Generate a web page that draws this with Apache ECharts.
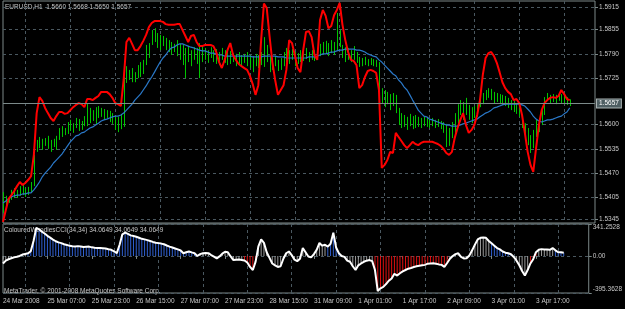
<!DOCTYPE html>
<html>
<head>
<meta charset="utf-8">
<title>EURUSD,H1</title>
<script src="https://cdn.jsdelivr.net/npm/echarts@6/dist/echarts.min.js"></script>
<style>
html, body { margin: 0; padding: 0; background: #000; }
#chart { width: 625px; height: 309px; }
</style>
</head>
<body>
<div id="chart"></div>
<script>
// ---- data (EURUSD H1, 24 Mar - 3 Apr 2008) ----
const timeLabels = ['24 Mar 2008', '25 Mar 07:00', '25 Mar 23:00', '26 Mar 15:00', '27 Mar 07:00', '27 Mar 23:00',
    '28 Mar 15:00', '31 Mar 09:00', '1 Apr 01:00', '1 Apr 17:00', '2 Apr 09:00', '3 Apr 01:00', '3 Apr 17:00'];
const labelStep = 16; // bars between time labels

const priceTicks = [1.5345, 1.5405, 1.5470, 1.5535, 1.5600, 1.5725, 1.5790, 1.5855, 1.5915];
const lastPrice = 1.5657;
const cciTicks = [-395.3628, 0, 341.2528];

const barHigh = [1.5419,1.5409,1.5406,1.5425,1.5430,1.5425,1.5435,1.5438,1.5430,1.5433,
    1.5446,1.5519,1.5559,1.5567,1.5562,1.5564,1.5570,1.5559,1.5562,1.5570,
    1.5591,1.5596,1.5591,1.5607,1.5613,1.5604,1.5618,1.5615,1.5610,1.5623,
    1.5658,1.5645,1.5639,1.5647,1.5650,1.5645,1.5642,1.5639,1.5637,1.5631,
    1.5623,1.5621,1.5626,1.5728,1.5757,1.5747,1.5752,1.5741,1.5760,1.5768,
    1.5774,1.5814,1.5819,1.5854,1.5859,1.5846,1.5841,1.5838,1.5833,1.5827,
    1.5822,1.5817,1.5827,1.5817,1.5814,1.5806,1.5811,1.5800,1.5808,1.5806,
    1.5819,1.5811,1.5806,1.5800,1.5808,1.5800,1.5803,1.5795,1.5806,1.5800,
    1.5795,1.5798,1.5792,1.5790,1.5795,1.5787,1.5790,1.5795,1.5787,1.5784,
    1.5790,1.5787,1.5795,1.5835,1.5814,1.5782,1.5779,1.5784,1.5774,1.5779,
    1.5795,1.5806,1.5800,1.5803,1.5795,1.5792,1.5800,1.5803,1.5806,1.5795,
    1.5800,1.5800,1.5806,1.5817,1.5822,1.5825,1.5819,1.5827,1.5822,1.5900,
    1.5854,1.5814,1.5808,1.5806,1.5800,1.5811,1.5795,1.5782,1.5779,1.5782,
    1.5776,1.5779,1.5776,1.5774,1.5768,1.5698,1.5693,1.5688,1.5682,1.5685,
    1.5680,1.5645,1.5631,1.5626,1.5621,1.5629,1.5623,1.5626,1.5621,1.5618,
    1.5621,1.5618,1.5615,1.5618,1.5613,1.5615,1.5610,1.5607,1.5602,1.5591,
    1.5607,1.5631,1.5655,1.5666,1.5661,1.5672,1.5653,1.5647,1.5650,1.5655,
    1.5677,1.5685,1.5693,1.5698,1.5696,1.5688,1.5685,1.5682,1.5680,1.5677,
    1.5672,1.5666,1.5664,1.5658,1.5655,1.5626,1.5604,1.5591,1.5572,1.5586,
    1.5613,1.5618,1.5639,1.5674,1.5685,1.5680,1.5682,1.5680,1.5685,1.5682,
    1.5677,1.5674,1.5668];

const barLow = [1.5363,1.5384,1.5390,1.5398,1.5403,1.5403,1.5409,1.5411,1.5406,1.5411,
    1.5419,1.5435,1.5527,1.5537,1.5532,1.5543,1.5535,1.5527,1.5540,1.5532,
    1.5559,1.5567,1.5572,1.5575,1.5583,1.5578,1.5591,1.5583,1.5586,1.5596,
    1.5596,1.5604,1.5610,1.5602,1.5618,1.5621,1.5613,1.5618,1.5607,1.5602,
    1.5586,1.5580,1.5588,1.5594,1.5712,1.5720,1.5714,1.5714,1.5725,1.5728,
    1.5736,1.5760,1.5779,1.5814,1.5822,1.5806,1.5800,1.5811,1.5800,1.5795,
    1.5787,1.5795,1.5784,1.5774,1.5760,1.5725,1.5768,1.5757,1.5774,1.5763,
    1.5725,1.5768,1.5774,1.5766,1.5779,1.5768,1.5763,1.5760,1.5774,1.5766,
    1.5760,1.5763,1.5768,1.5757,1.5763,1.5755,1.5766,1.5757,1.5752,1.5741,
    1.5757,1.5752,1.5760,1.5755,1.5768,1.5741,1.5747,1.5757,1.5744,1.5747,
    1.5757,1.5768,1.5763,1.5774,1.5757,1.5763,1.5768,1.5771,1.5776,1.5768,
    1.5774,1.5771,1.5774,1.5784,1.5787,1.5790,1.5784,1.5792,1.5787,1.5800,
    1.5808,1.5779,1.5768,1.5774,1.5768,1.5774,1.5766,1.5755,1.5757,1.5760,
    1.5757,1.5760,1.5757,1.5755,1.5693,1.5658,1.5647,1.5655,1.5639,1.5650,
    1.5631,1.5599,1.5591,1.5594,1.5586,1.5596,1.5588,1.5591,1.5594,1.5591,
    1.5596,1.5594,1.5591,1.5596,1.5591,1.5594,1.5588,1.5578,1.5540,1.5543,
    1.5564,1.5578,1.5604,1.5626,1.5613,1.5626,1.5613,1.5604,1.5618,1.5621,
    1.5647,1.5655,1.5666,1.5672,1.5666,1.5658,1.5661,1.5655,1.5653,1.5650,
    1.5645,1.5639,1.5634,1.5629,1.5621,1.5591,1.5572,1.5545,1.5524,1.5537,
    1.5567,1.5580,1.5599,1.5626,1.5664,1.5658,1.5661,1.5655,1.5664,1.5658,
    1.5655,1.5653,1.5650];

// red envelope-style line
const redLine = [1.5339,1.5371,1.5401,1.5411,1.5422,1.5435,1.5446,1.5438,1.5444,1.5452,
    1.5462,1.5519,1.5631,1.5674,1.5664,1.5645,1.5631,1.5618,1.5610,1.5623,
    1.5634,1.5634,1.5629,1.5631,1.5639,1.5647,1.5653,1.5658,1.5655,1.5647,
    1.5669,1.5669,1.5666,1.5672,1.5677,1.5688,1.5688,1.5688,1.5682,1.5672,
    1.5658,1.5655,1.5650,1.5720,1.5822,1.5833,1.5817,1.5800,1.5800,1.5811,
    1.5825,1.5841,1.5862,1.5873,1.5878,1.5878,1.5878,1.5876,1.5870,1.5868,
    1.5868,1.5868,1.5870,1.5870,1.5854,1.5838,1.5822,1.5838,1.5841,1.5822,
    1.5811,1.5811,1.5814,1.5814,1.5814,1.5811,1.5795,1.5768,1.5752,1.5774,
    1.5800,1.5819,1.5787,1.5774,1.5763,1.5757,1.5752,1.5747,1.5731,1.5709,
    1.5680,1.5706,1.5827,1.5925,1.5913,1.5838,1.5768,1.5720,1.5680,1.5693,
    1.5706,1.5747,1.5827,1.5819,1.5787,1.5752,1.5741,1.5800,1.5849,1.5851,
    1.5835,1.5787,1.5774,1.5881,1.5908,1.5892,1.5859,1.5865,1.5894,1.5908,
    1.5927,1.5868,1.5827,1.5795,1.5774,1.5771,1.5760,1.5698,1.5706,1.5728,
    1.5744,1.5747,1.5744,1.5739,1.5693,1.5484,1.5492,1.5505,1.5527,1.5524,
    1.5578,1.5567,1.5556,1.5545,1.5537,1.5545,1.5554,1.5548,1.5545,1.5551,
    1.5554,1.5554,1.5554,1.5554,1.5551,1.5548,1.5543,1.5535,1.5524,1.5519,
    1.5527,1.5564,1.5591,1.5613,1.5631,1.5599,1.5578,1.5586,1.5599,1.5626,
    1.5666,1.5733,1.5779,1.5792,1.5795,1.5784,1.5766,1.5741,1.5714,1.5698,
    1.5688,1.5682,1.5666,1.5669,1.5658,1.5626,1.5578,1.5527,1.5492,1.5473,
    1.5537,1.5599,1.5639,1.5658,1.5666,1.5672,1.5674,1.5672,1.5677,1.5693,
    1.5682,1.5669,1.5666];

// blue moving average
const maLine = [1.5390,1.5395,1.5401,1.5406,1.5409,1.5411,1.5411,1.5414,1.5414,1.5417,
    1.5417,1.5425,1.5435,1.5446,1.5460,1.5470,1.5478,1.5486,1.5497,1.5505,
    1.5513,1.5521,1.5532,1.5543,1.5554,1.5562,1.5570,1.5572,1.5578,1.5580,
    1.5586,1.5591,1.5594,1.5599,1.5604,1.5610,1.5613,1.5615,1.5618,1.5621,
    1.5623,1.5623,1.5626,1.5631,1.5639,1.5647,1.5655,1.5666,1.5674,1.5682,
    1.5693,1.5704,1.5717,1.5728,1.5741,1.5755,1.5768,1.5779,1.5787,1.5798,
    1.5806,1.5808,1.5814,1.5817,1.5817,1.5814,1.5811,1.5808,1.5806,1.5803,
    1.5800,1.5798,1.5798,1.5795,1.5792,1.5792,1.5790,1.5787,1.5787,1.5784,
    1.5784,1.5784,1.5784,1.5784,1.5784,1.5784,1.5784,1.5784,1.5784,1.5782,
    1.5782,1.5782,1.5782,1.5784,1.5784,1.5784,1.5784,1.5784,1.5782,1.5782,
    1.5782,1.5779,1.5779,1.5779,1.5779,1.5779,1.5779,1.5779,1.5779,1.5782,
    1.5782,1.5782,1.5784,1.5787,1.5790,1.5790,1.5792,1.5795,1.5795,1.5798,
    1.5800,1.5800,1.5803,1.5803,1.5803,1.5803,1.5800,1.5800,1.5798,1.5795,
    1.5790,1.5787,1.5784,1.5782,1.5774,1.5768,1.5760,1.5752,1.5744,1.5736,
    1.5731,1.5720,1.5712,1.5701,1.5693,1.5680,1.5666,1.5653,1.5639,1.5631,
    1.5623,1.5621,1.5615,1.5613,1.5610,1.5607,1.5604,1.5602,1.5599,1.5599,
    1.5596,1.5596,1.5596,1.5599,1.5602,1.5604,1.5607,1.5610,1.5613,1.5615,
    1.5621,1.5626,1.5631,1.5634,1.5639,1.5645,1.5647,1.5650,1.5653,1.5655,
    1.5655,1.5655,1.5655,1.5655,1.5655,1.5653,1.5650,1.5642,1.5634,1.5623,
    1.5615,1.5610,1.5607,1.5610,1.5613,1.5613,1.5615,1.5618,1.5621,1.5623,
    1.5629,1.5634,1.5645];

// ColouredWoodiesCCI(34,34)
const cciLine = [-80,-50,-35,-25,-15,-8,0,15,22,28,
    50,160,300,285,260,240,215,196,175,157,
    145,137,125,118,108,103,100,105,100,95,
    98,100,92,88,85,84,82,80,72,66,
    50,30,120,231,249,235,220,213,205,195,
    183,177,169,160,150,142,137,132,125,112,
    100,90,80,70,59,29,40,48,38,29,
    0,20,29,32,30,10,-7,-26,-5,25,
    45,40,-5,-44,-40,-37,-42,-48,-70,-117,
    -150,-60,103,176,140,40,-20,-80,-100,-117,
    -110,-30,29,48,10,-40,-55,-30,84,40,
    -5,-15,20,66,139,110,120,100,130,249,
    90,29,0,-10,-50,-62,-110,-150,-100,-80,
    -62,-50,-44,-55,-150,-374,-345,-330,-300,-264,
    -240,-191,-209,-185,-165,-150,-136,-128,-118,-110,
    -105,-100,-95,-82,-80,-78,-83,-90,-95,-117,
    -75,-30,0,20,29,-10,-26,-25,5,60,
    121,176,194,196,194,160,135,110,84,70,
    48,35,29,18,-10,-50,-99,-160,-209,-150,
    -80,-35,40,66,73,70,68,66,84,60,
    40,40,34.0649];

// histogram colour runs (bar index ranges)
const trendUpRuns = [[9, 70], [117, 122], [176, 183], [199, 202]];
const trendDownRuns = [[87, 91], [134, 160], [190, 192]];

// ---- chart ----
const slotCount = 212; // bars + empty shift on the right
const categories = Array.from({ length: slotCount }, (_, i) => String(i));

const font = 'Tahoma, "Liberation Sans", Arial, sans-serif';
const fontSize = 6.5;
const textColor = '#c8c8c8';
const gridColor = '#4a5860';
const frameColor = '#7c8888';

const inRuns = (runs, i) => runs.some(([a, b]) => i >= a && i <= b);
const histColor = (i) => {
    if (inRuns(trendUpRuns, i)) return '#2f5fd0';
    if (inRuns(trendDownRuns, i)) return '#e01010';
    return '#9a9a9a';
};

const vGrid = (idx) => idx % labelStep === labelStep / 2;
const atLabel = (idx) => idx % labelStep === 0 && idx / labelStep < timeLabels.length;

const myChart = echarts.init(document.getElementById('chart'));

const option = {
    backgroundColor: '#000000',
    animation: false,
    textStyle: { fontFamily: font },
    grid: [
        { left: 3, right: 30, top: 1, height: 222, show: true, borderColor: frameColor, borderWidth: 1 },
        { left: 3, right: 30, top: 224, height: 69, show: true, borderColor: frameColor, borderWidth: 1 },
    ],
    xAxis: [
        {
            type: 'category', gridIndex: 0, data: categories, boundaryGap: false,
            axisLine: { show: false }, axisTick: { show: false }, axisLabel: { show: false },
            splitLine: { show: true, interval: vGrid, lineStyle: { color: gridColor, type: [3, 3] } },
        },
        {
            type: 'category', gridIndex: 1, data: categories, boundaryGap: false,
            axisLine: { show: false },
            axisTick: { show: true, interval: atLabel, length: 3, lineStyle: { color: frameColor } },
            axisLabel: {
                interval: atLabel,
                formatter: (v) => timeLabels[Number(v) / labelStep],
                align: 'left', margin: 5, color: textColor, fontSize, fontFamily: font,
            },
            splitLine: { show: true, interval: vGrid, lineStyle: { color: gridColor, type: [3, 3] } },
        },
    ],
    yAxis: [
        {
            type: 'value', gridIndex: 0, position: 'right', min: 1.5336, max: 1.5932,
            axisLine: { show: false },
            axisTick: { show: true, customValues: priceTicks, length: 3, lineStyle: { color: frameColor } },
            axisLabel: {
                customValues: priceTicks, formatter: (v) => v.toFixed(4),
                margin: 4, color: textColor, fontSize, fontFamily: font,
            },
            splitLine: { show: true, lineStyle: { color: gridColor, type: [3, 3] } },
        },
        {
            type: 'value', gridIndex: 1, position: 'right', min: cciTicks[0], max: cciTicks[2],
            axisLine: { show: false },
            axisTick: { show: true, customValues: cciTicks, length: 3, lineStyle: { color: frameColor } },
            axisLabel: {
                customValues: cciTicks,
                formatter: (v) => (v === 0 ? '{m|0.00}' : v > 0 ? '{t|' + v.toFixed(4) + '}' : '{b|' + v.toFixed(4) + '}'),
                margin: 4,
                rich: {
                    m: { color: textColor, fontSize, fontFamily: font },
                    t: { color: textColor, fontSize, fontFamily: font, padding: [7, 0, 0, 0] },
                    b: { color: textColor, fontSize, fontFamily: font, padding: [0, 0, 7, 0] },
                },
            },
            splitLine: { show: true, lineStyle: { color: gridColor, type: [3, 3] } },
        },
    ],
    graphic: [
        { type: 'text', left: 5, top: 4, style: { text: 'EURUSD,H1  1.5660 1.5668 1.5650 1.5657', fill: textColor, font: fontSize + 'px ' + font } },
        { type: 'text', left: 4, top: 227, style: { text: 'ColouredWoodiesCCI(34,34) 34.0649 34.0649 34.0649', fill: textColor, font: fontSize + 'px ' + font } },
        { type: 'text', left: 4, top: 288, style: { text: 'MetaTrader, \u00a9 2001-2008 MetaQuotes Software Corp.', fill: textColor, font: fontSize + 'px ' + font } },
    ],
    series: [
        {
            name: 'EURUSD', type: 'custom', xAxisIndex: 0, yAxisIndex: 0,
            data: barHigh.map((h, i) => [i, barLow[i], h]),
            encode: { x: 0, y: [1, 2] },
            renderItem: (params, api) => {
                const lo = api.coord([api.value(0), api.value(1)]);
                const hi = api.coord([api.value(0), api.value(2)]);
                const x = Math.round(lo[0]) + 0.5;
                return {
                    type: 'line',
                    shape: { x1: x, y1: lo[1], x2: x, y2: hi[1] },
                    style: { stroke: '#00c400', lineWidth: 1 },
                };
            },
            clip: true,
        },
        {
            name: 'MA', type: 'line', xAxisIndex: 0, yAxisIndex: 0, data: maLine,
            showSymbol: false, lineStyle: { color: '#2a78c8', width: 1.2 },
        },
        {
            name: 'Upper', type: 'line', xAxisIndex: 0, yAxisIndex: 0, data: redLine,
            showSymbol: false, clip: true, lineStyle: { color: '#ff0000', width: 2 },
            markLine: {
                silent: true, symbol: 'none', precision: 4,
                lineStyle: { color: '#7c8a8a', width: 1, type: 'solid' },
                label: {
                    position: 'end', distance: 2, formatter: lastPrice.toFixed(4),
                    color: '#ffffff', fontSize, fontFamily: font,
                    backgroundColor: '#4e5e62', borderColor: '#a8b2b2', borderWidth: 1, padding: [1, 2, 0, 2],
                },
                data: [{ yAxis: lastPrice }],
            },
        },
        {
            name: 'CCI hist', type: 'bar', xAxisIndex: 1, yAxisIndex: 1, data: cciLine,
            barWidth: 1, itemStyle: { color: (p) => histColor(p.dataIndex) },
        },
        {
            name: 'CCI', type: 'line', xAxisIndex: 1, yAxisIndex: 1, data: cciLine,
            showSymbol: false, lineStyle: { color: '#ffffff', width: 2 },
        },
    ],
};

myChart.setOption(option);
window.addEventListener('resize', () => myChart.resize());
</script>
</body>
</html>
